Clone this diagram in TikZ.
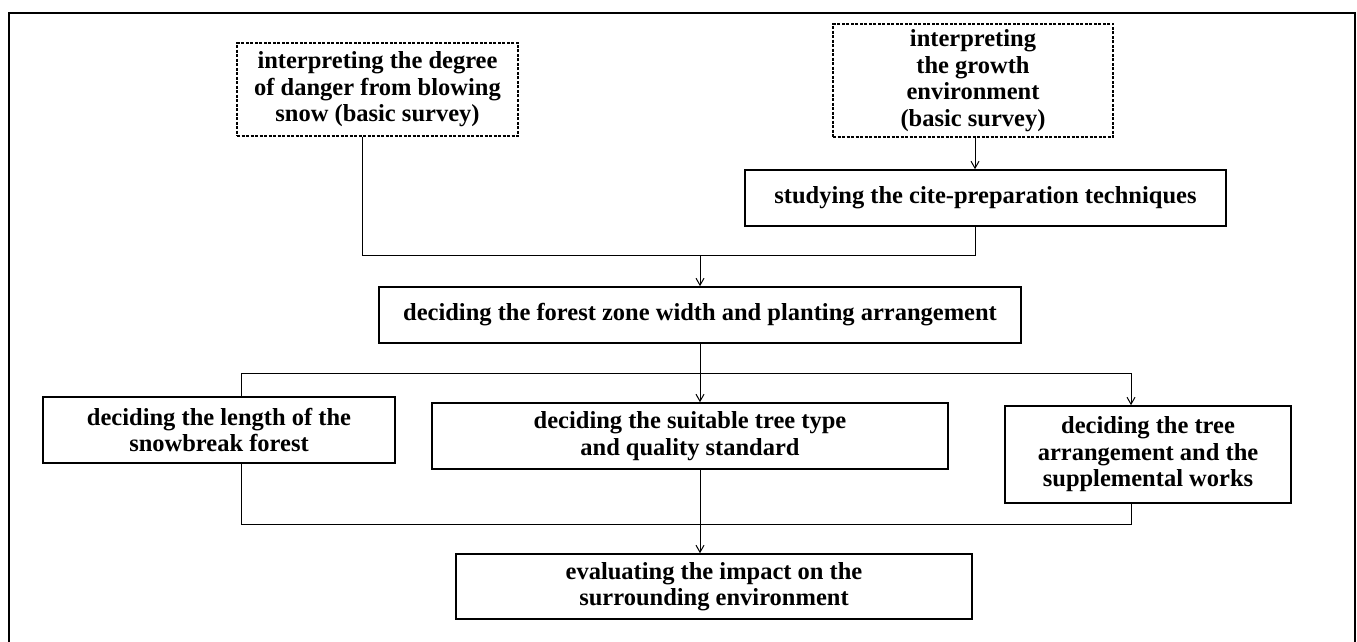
\documentclass[tikz,border=0pt]{standalone}
\usepackage{fontspec}
\setmainfont{Liberation Serif}
\usetikzlibrary{arrows.meta,calc}
\tikzset{
  box/.style={draw=black, line width=1.6pt, fill=white, align=center, inner sep=1pt,
    font=\fontsize{24.5}{26.5}\selectfont\bfseries},
  dbox/.style={box, dashed, line width=1.1pt, dash pattern=on 3pt off 1.5pt},
  conn/.style={draw=black, line width=1pt},
  arr/.style={conn, -{Straight Barb[length=7pt,width=8pt,line width=1pt]}},
  frame/.style={draw=black, line width=2pt}
}
\begin{document}
\begin{tikzpicture}[x=1pt,y=-1pt]
\useasboundingbox (0,0) rectangle (1357,642);
\fill[white] (0,0) rectangle (1357,642);
\coordinate (f1) at (9,642);
\coordinate (f2) at (9,13);
\coordinate (f3) at (1355,13);
\coordinate (f4) at (1355,642);
\draw[frame] (f1) -- (f2) -- (f3) -- (f4);

\node[dbox, minimum width=281, minimum height=93] (A) at (377.5,89.5)
  {interpreting the degree\\of danger from blowing\\snow (basic survey)};
\node[dbox, minimum width=280, minimum height=113] (B) at (973,80.5)
  {interpreting\\the growth\\environment\\(basic survey)};
\node[box, minimum width=481, minimum height=56] (C) at (985.5,198)
  {studying the cite-preparation techniques};
\node[box, minimum width=642, minimum height=56] (D) at (700,315)
  {deciding the forest zone width and planting arrangement};
\node[box, minimum width=352, minimum height=66] (E) at (219,430)
  {deciding the length of the\\snowbreak forest};
\node[box, minimum width=516, minimum height=66] (F) at (690,436)
  {deciding the suitable tree type\\and quality standard};
\node[box, minimum width=286, minimum height=97] (G) at (1148,454.5)
  {deciding the tree\\arrangement and the\\supplemental works};
\node[box, minimum width=516, minimum height=65] (H) at (714,586.5)
  {evaluating the impact on the\\surrounding environment};

% junctions
\coordinate (j1) at (700,255);
\coordinate (j2) at (700,373);
\coordinate (j3) at (700,524);

% A, C -> D
\draw[conn] ([xshift=-15.5pt]A.south) |- (j1);
\draw[conn] ([xshift=-10.5pt]C.south) |- (j1);
\draw[arr] (j1) -- (D.north);
% B -> C
\draw[arr] ([xshift=2pt]B.south) -- ([xshift=2pt]B.south |- C.north);
% D -> split
\draw[conn] (D.south) -- (j2);
\draw[conn] ([xshift=22pt]E.north) |- (j2);
\draw[arr] (j2) -| ([xshift=-17pt]G.north);
\draw[arr] (j2) -- ([xshift=10pt]F.north);
% merge -> H
\draw[conn] ([xshift=22pt]E.south) |- (j3);
\draw[conn] ([xshift=-17pt]G.south) |- (j3);
\draw[conn] ([xshift=10pt]F.south) -- (j3);
\draw[arr] (j3) -- ([xshift=-14pt]H.north);
\end{tikzpicture}
\end{document}
